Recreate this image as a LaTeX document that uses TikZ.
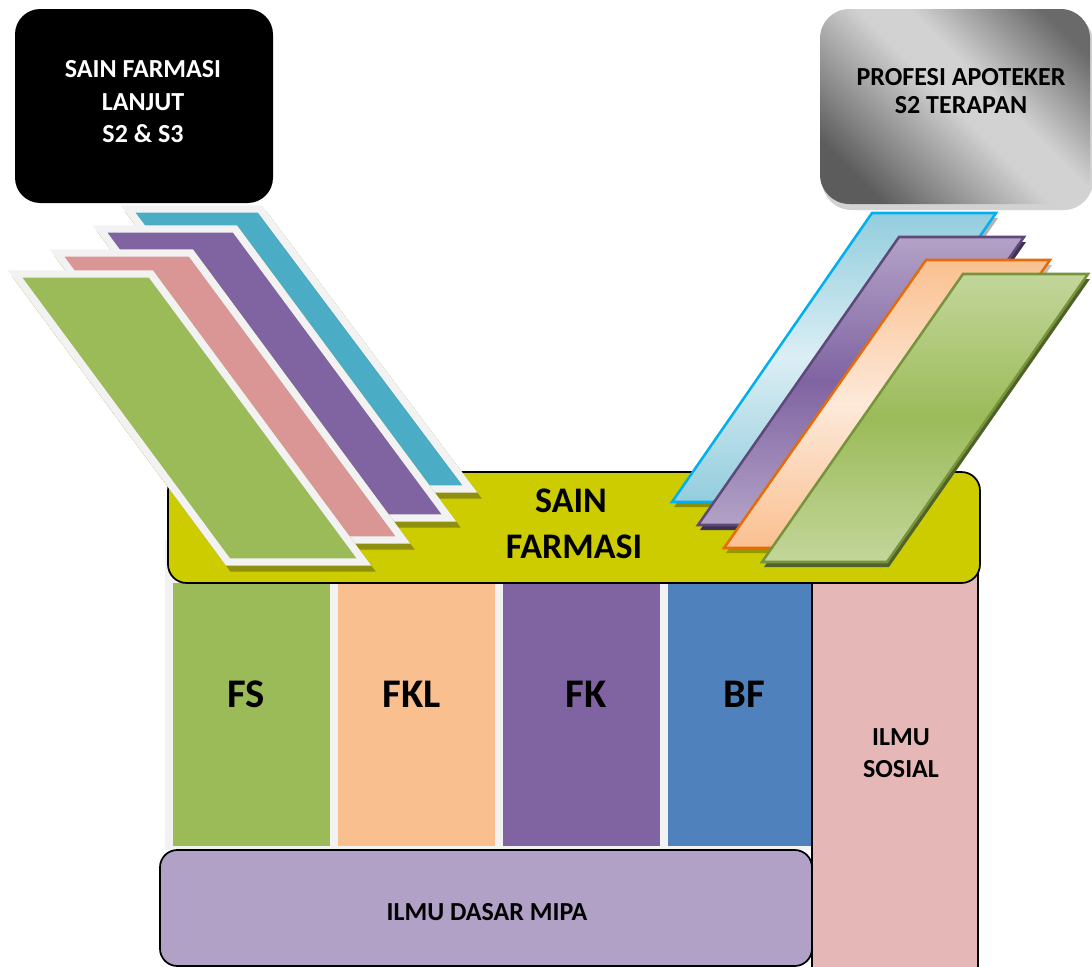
\documentclass[tikz,border=0pt]{standalone}
\usepackage{fontspec}
\setmainfont{Carlito}
\usetikzlibrary{fit}
\definecolor{cFS}{HTML}{9BBB59}
\definecolor{cFKL}{HTML}{F9BF8F}
\definecolor{cFK}{HTML}{8064A2}
\definecolor{cBF}{HTML}{4F81BD}
\definecolor{cSos}{HTML}{E5B8B7}
\definecolor{cMipa}{HTML}{B2A1C7}
\definecolor{cYel}{HTML}{CCCC00}
\definecolor{colbg}{HTML}{F2F2F2}
\definecolor{lborder}{HTML}{F2F2F2}
\definecolor{lshadow}{HTML}{8F9010}
\definecolor{lGreen}{HTML}{9BBB59}
\definecolor{lPink}{HTML}{D99694}
\definecolor{lPurple}{HTML}{8064A2}
\definecolor{lBlue}{HTML}{4BACC6}
\definecolor{rb1}{HTML}{93CDDD}
\definecolor{rb2}{HTML}{DBEEF4}
\definecolor{rbB}{HTML}{00B0F0}
\definecolor{rp1}{HTML}{B3A2C7}
\definecolor{rp2}{HTML}{8064A2}
\definecolor{rpB}{HTML}{5F497A}
\definecolor{rpS}{HTML}{3F3151}
\definecolor{ro1}{HTML}{FAC090}
\definecolor{ro2}{HTML}{FDE9D9}
\definecolor{roB}{HTML}{E46C0A}
\definecolor{rg1}{HTML}{C3D69B}
\definecolor{rg2}{HTML}{9BBB59}
\definecolor{rgB}{HTML}{77933C}
\definecolor{rgS}{HTML}{4F6228}
\definecolor{gLight}{HTML}{D2D2D2}
\definecolor{gDarkA}{HTML}{6A6A6A}
\definecolor{gDarkB}{HTML}{5C5C5C}
\pgfdeclarehorizontalshading{silver}{100bp}{color(0bp)=(gDarkB); color(24bp)=(gDarkB); color(50bp)=(gLight); color(58bp)=(gLight); color(78bp)=(gDarkA); color(100bp)=(gDarkA)}
\begin{document}
\begin{tikzpicture}[x=0.75pt,y=-0.75pt,
  every node/.style={inner sep=0pt, outer sep=0pt},
  txtS/.style={anchor=base, font=\bfseries\fontsize{19.5}{23}\selectfont},
  txtM/.style={anchor=base, font=\bfseries\fontsize{27}{32}\selectfont},
  txtL/.style={anchor=base, font=\bfseries\fontsize{30.5}{35}\selectfont},
  lpar/.style={fill=#1, draw=lborder, line width=5.6pt, line join=miter},
  lshad/.style={fill=lshadow, draw=lshadow, line width=5.6pt, line join=miter, shift={(4.4,6)}},
  rpar/.style args={#1/#2/#3}{top color=#1, bottom color=#1, middle color=#2, draw=#3, line width=1.9pt, line join=miter},
]
\clip (0,0) rectangle (1092,967);
\fill[white] (0,0) rectangle (1092,967);

% top boxes
\node[fit={(15,9) (273,203)}, fill=black, rounded corners=19pt] (lanjut) {};
\fill[gray!35, rounded corners=22pt] (822,13) rectangle (1093,210);
\node[fit={(820,9) (1090,204)}, shading=silver, shading angle=45, rounded corners=22pt] (profesi) {};

% base blocks
\fill[colbg] (165,540) rectangle (812,850);
\node[fit={(173,583) (330,846)}, fill=cFS] (fs) {};
\node[fit={(338,583) (495,846)}, fill=cFKL] (fkl) {};
\node[fit={(503,583) (660,846)}, fill=cFK] (fk) {};
\node[fit={(668,583) (812,846)}, fill=cBF] (bf) {};
\node[fit={(812,560) (978,990)}, fill=cSos, draw=black, line width=1.1pt] (sosial) {};
\node[fit={(160,850) (812,966)}, fill=cMipa, draw=black, line width=1.3pt, rounded corners=13pt] (mipa) {};
\node[fit={(168,472) (980,583)}, fill=cYel, draw=black, line width=1.3pt, rounded corners=14pt] (sain) {};

% left stack
\draw[lshad] (128,209) -- (260,209) -- (470,489) -- (338,489) -- cycle;
\draw[lpar=lBlue] (128,209) -- (260,209) -- (470,489) -- (338,489) -- cycle;
\draw[lshad] (100,229) -- (235,229) -- (449,518) -- (314,518) -- cycle;
\draw[lpar=lPurple] (100,229) -- (235,229) -- (449,518) -- (314,518) -- cycle;
\draw[lshad] (57,253) -- (191,253) -- (403,540) -- (269,540) -- cycle;
\draw[lpar=lPink] (57,253) -- (191,253) -- (403,540) -- (269,540) -- cycle;
\draw[lshad] (15,274) -- (151,274) -- (364,562) -- (228,562) -- cycle;
\draw[lpar=lGreen] (15,274) -- (151,274) -- (364,562) -- (228,562) -- cycle;

% right stack
\fill[black, opacity=0.3] (874,218) -- (998,218) -- (798,507) -- (674,507) -- cycle;
\draw[rpar=rb1/rb2/rbB] (872,213) -- (996,213) -- (796,502) -- (672,502) -- cycle;
\fill[rpS] (901,242) -- (1026,242) -- (825,530) -- (700,530) -- cycle;
\draw[rpar=rp1/rp2/rpB] (899,237) -- (1024,237) -- (823,525) -- (698,525) -- cycle;
\fill[black, opacity=0.25] (928,265) -- (1052,265) -- (850,553) -- (726,553) -- cycle;
\draw[rpar=ro1/ro2/roB] (926,260) -- (1050,260) -- (848,548) -- (724,548) -- cycle;
\fill[rgS] (965,279) -- (1090,279) -- (889,567) -- (764,567) -- cycle;
\draw[rpar=rg1/rg2/rgB] (963,274) -- (1088,274) -- (887,562) -- (762,562) -- cycle;

% texts
\node[txtS, text=white] (t1) at (143,77) {SAIN FARMASI};
\node[txtS, text=white] (t2) at (143,110) {LANJUT};
\node[txtS, text=white] (t3) at (143,142) {S2 \& S3};
\node[txtS] (t4) at (961,85) {PROFESI APOTEKER};
\node[txtS] (t5) at (961,113) {S2 TERAPAN};
\node[txtM] (t6) at (571,512) {SAIN};
\node[txtM] (t7) at (574,558) {FARMASI};
\node[txtL] (t8) at (246,707) {FS};
\node[txtL] (t9) at (412,707) {FKL};
\node[txtL] (t10) at (586,707) {FK};
\node[txtL] (t11) at (744,707) {BF};
\node[txtS] (t12) at (901,745) {ILMU};
\node[txtS] (t13) at (901,777) {SOSIAL};
\node[txtS] (t14) at (487,920) {ILMU DASAR MIPA};
\end{tikzpicture}
\end{document}
